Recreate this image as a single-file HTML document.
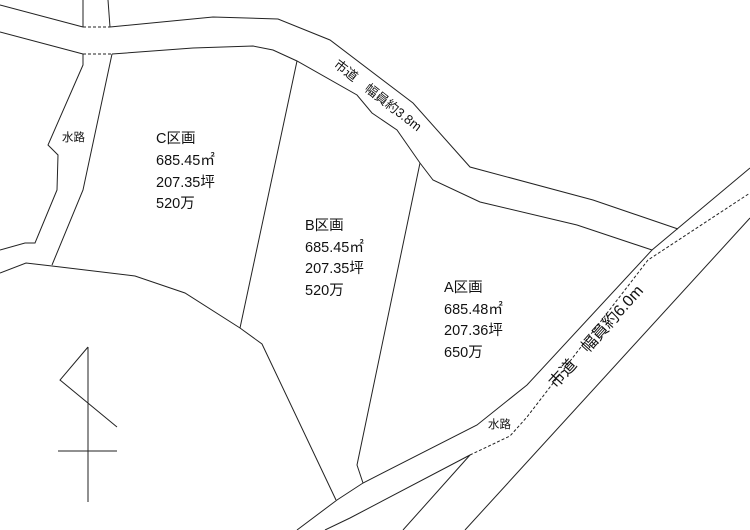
<!DOCTYPE html>
<html><head><meta charset="utf-8"><style>
html,body{margin:0;padding:0;background:#fff;}
svg{display:block;}
text{font-family:"Liberation Sans","Noto Sans CJK JP",sans-serif;fill:#111;}
</style></head><body>
<svg width="750" height="530" viewBox="0 0 750 530" xmlns="http://www.w3.org/2000/svg">
<g fill="none" stroke="#222" stroke-width="1">
<polyline points="0,5 83,27"/>
<polyline points="110,27 213,17 278,19 330,40 413,103 470,167 593,200 678,229"/>
<line x1="83" y1="27" x2="110" y2="27" stroke-dasharray="3,2"/>
<polyline points="0,32 83,54"/>
<line x1="83" y1="54" x2="112" y2="54" stroke-dasharray="3,2"/>
<polyline points="112,54 193,48 253,46 273,50 297,61 357,95 372,113 397,130 420,163 433,180 480,202 577,225 652,250"/>
<line x1="83" y1="0" x2="83" y2="27"/>
<line x1="108" y1="0" x2="110" y2="27"/>
<polyline points="83,54 83,65 48,145 58,155 57,190 35,243 25,243 0,250"/>
<polyline points="112,54 83,190 52,265"/>
<polyline points="0,273 26,263 52,266 135,276 185,293 240,328 262,344 336,500"/>
<line x1="297" y1="61" x2="240" y2="328"/>
<polyline points="420,163 357,465 363,483"/>
<polyline points="297,530 337,500 363,483 477,425 527,385 652,250 750,168"/>
<polyline points="325,530 350,518 470,455 403,530"/>
<line x1="465" y1="530" x2="750" y2="218"/>
<polyline points="470,455 510,436 527,417 648,260 750,193" stroke-dasharray="3,2"/>
<line x1="88" y1="347" x2="88" y2="502"/>
<polyline points="88,347 60,380 117,427"/>
<line x1="58" y1="451" x2="117" y2="451"/>
</g>
<g font-size="14.5">
<text x="156" y="143">C区画</text>
<text x="156" y="165">685.45㎡</text>
<text x="156" y="187">207.35坪</text>
<text x="156" y="208">520万</text>
<text x="305" y="230">B区画</text>
<text x="305" y="252">685.45㎡</text>
<text x="305" y="273">207.35坪</text>
<text x="305" y="295">520万</text>
<text x="444" y="292">A区画</text>
<text x="444" y="314">685.48㎡</text>
<text x="444" y="335">207.36坪</text>
<text x="444" y="357">650万</text>
</g>
<text x="62" y="141" font-size="11.5">水路</text>
<text x="488" y="428" font-size="11.5">水路</text>
<text x="0" y="0" font-size="13" transform="translate(333,66) rotate(38)">市道　幅員約3.8m</text>
<text x="0" y="0" font-size="16" transform="translate(556,389) rotate(-48)">市道　幅員約6.0m</text>
</svg>
</body></html>
